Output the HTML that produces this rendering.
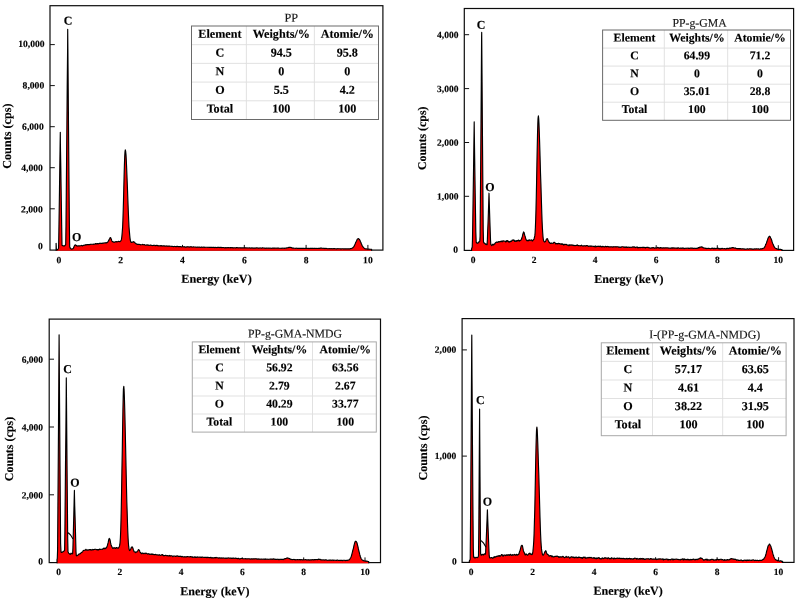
<!DOCTYPE html>
<html lang="en">
<head>
<meta charset="utf-8">
<title>EDS spectra</title>
<style>
html,body{margin:0;padding:0;background:#fff;}
body{width:797px;height:600px;overflow:hidden;}
svg{display:block;font-family:"Liberation Serif", "Times New Roman", serif;fill:#000;text-rendering:geometricPrecision;}
text{stroke:#000;stroke-width:0.14px;}
</style>
</head>
<body>
<svg width="797" height="600" viewBox="0 0 797 600">
<rect width="797" height="600" fill="#fff"/>
<g>
<rect x="50" y="5.7" width="332.9" height="244.4" fill="#fff" stroke="#0c0c0c" stroke-width="1.2"/>
<path d="M50 208.8h4.8M50 167.7h4.8M50 126.7h4.8M50 85.6h4.8M50 44.6h4.8M58.9 250.1v-5.2M120.7 250.1v-5.2M182.5 250.1v-5.2M244.3 250.1v-5.2M306.1 250.1v-5.2M367.9 250.1v-5.2" stroke="#111" stroke-width="1" fill="none"/>
<polyline points="56.1,250.8 56.1,243.3 56.4,250 56.7,250 57,249.9 57.4,249.7 57.7,249.4 58,249.1 58.3,248.6 58.6,247.9 58.9,230 59.2,209.8 59.5,188.9 59.8,167.2 60.1,144.3 60.3,132.3 60.4,144.2 60.8,166.6 61.1,187.7 61.4,207.8 61.7,227.6 62,245.2 62.3,245.4 62.6,245.5 62.9,245.7 63.2,246 63.5,246 63.8,245.9 64.2,245.9 64.5,245.9 64.8,245.7 65.1,245.3 65.4,245 65.7,244.6 66,224.8 66.3,191.9 66.6,158.4 66.9,123.7 67.2,87.5 67.6,49.3 67.7,29.3 67.9,49.6 68.2,88 68.5,124.4 68.8,159.4 69.1,193.4 69.4,226.6 69.7,246.8 70,247.6 70.3,248.3 70.6,248.6 71,248.8 71.3,249 71.6,249.1 71.9,249 72.2,249 72.5,248.9 72.8,248.8 73.1,248.5 73.4,248.2 73.7,247.6 74,246.8 74.3,246 74.7,245.4 75,245 75.1,244.9 75.3,244.9 75.6,245 75.9,245.3 76.2,245.4 76.5,245.6 76.8,246 77.1,246.1 77.4,246 77.7,245.9 78.1,245.9 78.4,245.9 78.7,245.9 79,246 79.3,246 79.6,245.8 79.9,245.9 80.2,245.8 80.5,245.7 80.8,245.7 81.1,245.6 81.5,245.4 81.8,245.5 82.1,245.7 82.4,245.9 82.7,245.7 83,245.5 83.3,245.4 83.6,245.4 83.9,245.2 84.2,245.2 84.5,245.1 84.9,245 85.2,245.1 85.5,244.9 85.8,244.6 86.1,244.7 86.4,244.9 86.7,244.8 87,244.6 87.3,244.5 87.6,244.6 87.9,244.7 88.3,244.7 88.6,244.5 88.9,244.5 89.2,244.6 89.5,244.6 89.8,244.5 90.1,244.4 90.4,244.4 90.7,244.3 91,244.2 91.3,244.2 91.7,244.3 92,244.2 92.3,244.2 92.6,244.2 92.9,244.3 93.2,244.4 93.5,244.2 93.8,244 94.1,244 94.4,244 94.7,244.1 95.1,244.1 95.4,243.8 95.7,243.6 96,243.6 96.3,243.8 96.6,243.8 96.9,243.8 97.2,243.8 97.5,243.6 97.8,243.8 98.1,243.9 98.5,243.8 98.8,243.6 99.1,243.4 99.4,243.4 99.7,243.4 100,243.4 100.3,243.3 100.6,243.3 100.9,243.2 101.2,243.3 101.5,243.3 101.9,243.3 102.2,243.3 102.5,243.3 102.8,243.1 103.1,243.1 103.4,243.2 103.7,243.1 104,243 104.3,242.9 104.6,243 104.9,243 105.2,243 105.6,242.9 105.9,242.6 106.2,242.7 106.5,242.9 106.8,242.6 107.1,242.6 107.4,242.3 107.7,241.9 108,241.7 108.3,241.2 108.6,240.6 109,239.9 109.3,239.3 109.6,238.7 109.9,238 110.2,237.6 110.5,237.6 110.8,237.9 111.1,238.7 111.4,239.5 111.7,240.4 112,241.1 112.4,241.6 112.7,241.8 113,241.8 113.3,241.9 113.6,242.1 113.9,242.3 114.2,242.3 114.5,242.1 114.8,242 115.1,242 115.4,241.9 115.8,241.6 116.1,241.6 116.4,241.8 116.7,242 117,241.9 117.3,241.8 117.6,241.7 117.9,241.6 118.2,241.5 118.5,241.3 118.8,241.4 119.2,241.5 119.5,241.6 119.8,241.7 120.1,241.5 120.4,241.2 120.7,241 121,240.6 121.3,239.9 121.6,238.5 121.9,236.1 122.2,232.6 122.6,227.4 122.9,220.2 123.2,211.1 123.5,200.2 123.8,188.1 124.1,176 124.4,165.2 124.7,156.9 125,151.8 125.3,149.8 125.6,150.8 126,154.6 126.3,160.2 126.6,167 126.9,174.5 127.2,182 127.5,189.7 127.8,197.9 128.1,206 128.4,213.6 128.7,220.6 129,226.8 129.4,231.6 129.7,235.1 130,238 130.3,240.1 130.6,241.3 130.9,241.9 131.2,242.3 131.5,242.3 131.8,242.3 132.1,242.2 132.4,242.1 132.8,242.2 133.1,242 133.4,241.7 133.5,241.8 133.7,241.9 134,242 134.3,242.1 134.6,242.2 134.9,242.6 135.2,243.1 135.5,243.4 135.8,243.7 136.2,243.8 136.5,243.9 136.8,244 137.1,244.3 137.4,244.3 137.7,244.4 138,244.5 138.3,244.4 138.6,244.4 138.9,244.3 139.2,244.3 139.5,244.4 139.9,244.5 140.2,244.6 140.5,244.8 140.8,244.8 141.1,244.7 141.4,244.7 141.7,244.7 142,244.7 142.3,244.7 142.6,244.4 142.9,244.4 143.3,244.7 143.6,244.8 143.9,244.7 144.2,244.6 144.5,244.6 144.8,244.9 145.1,245.1 145.4,245.1 145.7,245.2 146,245.2 146.3,245.1 146.7,245 147,244.8 147.3,244.9 147.6,245.2 147.9,245.3 148.2,245.1 148.5,245 148.8,245.2 149.1,245.4 149.4,245.2 149.7,245.2 150.1,245.1 150.4,245 150.7,245.1 151,245.2 151.3,245.3 151.6,245.3 151.9,245.4 152.2,245.6 152.5,245.5 152.8,245.5 153.1,245.5 153.5,245.4 153.8,245.2 154.1,245.2 154.4,245.3 154.7,245.4 155,245.7 155.3,245.8 155.6,245.6 155.9,245.4 156.2,245.4 156.5,245.4 156.9,245.5 157.2,245.7 157.5,245.5 157.8,245.4 158.1,245.7 158.4,245.9 158.7,245.8 159,245.7 159.3,245.7 159.6,245.7 159.9,245.9 160.3,245.9 160.6,245.7 160.9,245.5 161.2,245.6 161.5,245.8 161.8,246 162.1,246.1 162.4,245.9 162.7,245.9 163,245.9 163.3,245.9 163.7,245.8 164,245.8 164.3,245.8 164.6,246 164.9,246.2 165.2,246.2 165.5,246.1 165.8,246 166.1,245.9 166.4,245.9 166.7,246.1 167,246.1 167.4,246.1 167.7,246.1 168,246.1 168.3,246.1 168.6,246 168.9,246 169.2,246.1 169.5,246 169.8,246.1 170.1,246.2 170.4,246.3 170.8,246.2 171.1,246.2 171.4,246.2 171.7,246.4 172,246.5 172.3,246.5 172.6,246.4 172.9,246.5 173.2,246.5 173.5,246.6 173.8,246.6 174.2,246.5 174.5,246.4 174.8,246.5 175.1,246.5 175.4,246.5 175.7,246.6 176,246.8 176.3,246.7 176.6,246.5 176.9,246.3 177.2,246.3 177.6,246.4 177.9,246.6 178.2,246.7 178.5,246.6 178.8,246.5 179.1,246.5 179.4,246.7 179.7,246.7 180,246.5 180.3,246.5 180.6,246.6 181,246.8 181.3,246.9 181.6,246.9 181.9,246.8 182.2,246.7 182.5,246.6 182.8,246.6 183.1,246.7 183.4,246.8 183.7,246.8 184,246.9 184.4,246.8 184.7,246.7 185,246.9 185.3,247.1 185.6,247 185.9,247 186.2,247.1 186.5,247 186.8,246.8 187.1,246.7 187.4,246.8 187.8,246.8 188.1,246.8 188.4,247 188.7,247 189,246.9 189.3,247 189.6,247.1 189.9,247 190.2,246.8 190.5,246.7 190.8,246.8 191.2,246.8 191.5,246.8 191.8,246.9 192.1,247.1 192.4,247 192.7,247 193,247 193.3,246.9 193.6,246.9 193.9,247 194.2,247 194.6,247 194.9,247 195.2,247 195.5,247 195.8,247.1 196.1,247.2 196.4,247.2 196.7,247.3 197,247.1 197.3,247 197.6,247.1 197.9,247.2 198.3,247.2 198.6,247.1 198.9,247 199.2,247 199.5,247.1 199.8,247.2 200.1,247.2 200.4,247.3 200.7,247.3 201,247.3 201.3,247.1 201.7,247.1 202,247.1 202.3,247.2 202.6,247.3 202.9,247.3 203.2,247.2 203.5,247.1 203.8,247.1 204.1,247.1 204.4,247.3 204.7,247.4 205.1,247.2 205.4,247.2 205.7,247.3 206,247.2 206.3,247.2 206.6,247.2 206.9,247.2 207.2,247.3 207.5,247.3 207.8,247.2 208.1,247.2 208.5,247.3 208.8,247.3 209.1,247.4 209.4,247.3 209.7,247.3 210,247.3 210.3,247.3 210.6,247.3 210.9,247.3 211.2,247.3 211.5,247.3 211.9,247.4 212.2,247.4 212.5,247.5 212.8,247.5 213.1,247.4 213.4,247.3 213.7,247.3 214,247.3 214.3,247.4 214.6,247.6 214.9,247.6 215.3,247.5 215.6,247.4 215.9,247.4 216.2,247.5 216.5,247.5 216.8,247.6 217.1,247.6 217.4,247.4 217.7,247.3 218,247.4 218.3,247.5 218.7,247.4 219,247.4 219.3,247.4 219.6,247.5 219.9,247.6 220.2,247.5 220.5,247.4 220.8,247.3 221.1,247.3 221.4,247.5 221.7,247.6 222.1,247.6 222.4,247.5 222.7,247.5 223,247.5 223.3,247.5 223.6,247.5 223.9,247.6 224.2,247.7 224.5,247.8 224.8,247.8 225.1,247.8 225.5,247.8 225.8,247.6 226.1,247.6 226.4,247.7 226.7,247.8 227,247.8 227.3,247.7 227.6,247.6 227.9,247.7 228.2,247.7 228.5,247.6 228.8,247.6 229.2,247.7 229.5,247.7 229.8,247.7 230.1,247.6 230.4,247.6 230.7,247.8 231,247.8 231.3,247.7 231.6,247.6 231.9,247.5 232.2,247.6 232.6,247.8 232.9,247.8 233.2,247.8 233.5,247.8 233.8,247.8 234.1,247.8 234.4,247.7 234.7,247.7 235,247.8 235.3,247.8 235.6,247.9 236,247.9 236.3,247.8 236.6,247.6 236.9,247.5 237.2,247.6 237.5,247.7 237.8,247.8 238.1,247.9 238.4,247.9 238.7,247.8 239,247.7 239.4,247.7 239.7,247.8 240,247.8 240.3,247.8 240.6,247.8 240.9,247.8 241.2,247.9 241.5,248 241.8,247.9 242.1,247.8 242.4,247.8 242.8,247.9 243.1,248 243.4,247.9 243.7,247.9 244,247.9 244.3,247.9 244.6,247.9 244.9,247.8 245.2,247.8 245.5,247.8 245.8,247.8 246.2,247.8 246.5,247.9 246.8,248 247.1,248 247.4,248 247.7,247.9 248,247.9 248.3,248 248.6,248 248.9,248 249.2,247.9 249.6,247.9 249.9,248 250.2,248 250.5,248.1 250.8,248 251.1,247.9 251.4,247.9 251.7,248 252,248.1 252.3,248.1 252.6,247.9 253,247.9 253.3,248.1 253.6,248.1 253.9,248.1 254.2,248.1 254.5,248.2 254.8,248 255.1,248 255.4,248.1 255.7,248 256,247.9 256.4,247.9 256.7,247.9 257,247.9 257.3,247.9 257.6,248 257.9,248 258.2,248.1 258.5,248.1 258.8,248.1 259.1,248.1 259.4,248 259.8,248 260.1,247.9 260.4,248 260.7,248 261,248 261.3,248.1 261.6,248.1 261.9,248 262.2,248 262.5,247.8 262.8,247.8 263.1,247.9 263.5,248 263.8,248 264.1,248 264.4,248.1 264.7,248.1 265,248.2 265.3,248.3 265.6,248.3 265.9,248.1 266.2,248.1 266.5,248.1 266.9,248 267.2,248.1 267.5,248.2 267.8,248.2 268.1,248.1 268.4,248 268.7,248.2 269,248.3 269.3,248.2 269.6,248.1 269.9,248.1 270.3,248.2 270.6,248.2 270.9,248.1 271.2,248.2 271.5,248.3 271.8,248.3 272.1,248.2 272.4,248.1 272.7,248.1 273,248.1 273.3,248.1 273.7,248.1 274,248.1 274.3,248.1 274.6,248.1 274.9,248.1 275.2,248.2 275.5,248.2 275.8,248.1 276.1,248.1 276.4,248.1 276.7,248.2 277.1,248.2 277.4,248.1 277.7,248.1 278,248.2 278.3,248.1 278.6,248.1 278.9,248.2 279.2,248.3 279.5,248.2 279.8,248.2 280.1,248.2 280.5,248.2 280.8,248.3 281.1,248.3 281.4,248.3 281.7,248.2 282,248.1 282.3,248.1 282.6,248.2 282.9,248.2 283.2,248.2 283.5,248.2 283.9,248.1 284.2,248.2 284.5,248.4 284.8,248.3 285.1,248.1 285.4,248.2 285.7,248.2 286,248.1 286.3,248.1 286.6,247.9 286.9,247.8 287.3,247.8 287.6,247.7 287.9,247.7 288.2,247.7 288.5,247.5 288.8,247.4 289.1,247.4 289.4,247.4 289.7,247.4 290,247.5 290.3,247.5 290.6,247.4 291,247.4 291.3,247.6 291.6,247.8 291.9,247.8 292.2,247.9 292.5,248.1 292.8,248.1 293.1,248.1 293.4,248.1 293.7,248.1 294,248.2 294.4,248.2 294.7,248.2 295,248.3 295.3,248.3 295.6,248.3 295.9,248.2 296.2,248.1 296.5,248.2 296.8,248.3 297.1,248.3 297.4,248.3 297.8,248.3 298.1,248.3 298.4,248.3 298.7,248.3 299,248.3 299.3,248.3 299.6,248.3 299.9,248.4 300.2,248.3 300.5,248.3 300.8,248.4 301.2,248.4 301.5,248.4 301.8,248.3 302.1,248.4 302.4,248.4 302.7,248.4 303,248.4 303.3,248.3 303.6,248.3 303.9,248.3 304.2,248.4 304.6,248.5 304.9,248.5 305.2,248.3 305.5,248.4 305.8,248.4 306.1,248.3 306.4,248.4 306.7,248.4 307,248.4 307.3,248.4 307.6,248.5 308,248.4 308.3,248.3 308.6,248.4 308.9,248.6 309.2,248.6 309.5,248.4 309.8,248.4 310.1,248.4 310.4,248.4 310.7,248.5 311,248.4 311.4,248.4 311.7,248.4 312,248.4 312.3,248.4 312.6,248.4 312.9,248.5 313.2,248.4 313.5,248.5 313.8,248.5 314.1,248.4 314.4,248.3 314.8,248.3 315.1,248.4 315.4,248.4 315.7,248.5 316,248.5 316.3,248.5 316.6,248.4 316.9,248.4 317.2,248.4 317.5,248.5 317.8,248.5 318.2,248.4 318.5,248.3 318.8,248.3 319.1,248.3 319.4,248.3 319.7,248.3 320,248.3 320.3,248.1 320.6,248.1 320.9,248.1 321.2,248.1 321.5,248 321.9,248.2 322.2,248.3 322.5,248.3 322.8,248.2 323.1,248.2 323.4,248.3 323.7,248.3 324,248.2 324.3,248.4 324.6,248.5 324.9,248.6 325.3,248.5 325.6,248.4 325.9,248.4 326.2,248.4 326.5,248.5 326.8,248.5 327.1,248.6 327.4,248.7 327.7,248.7 328,248.7 328.3,248.7 328.7,248.6 329,248.5 329.3,248.6 329.6,248.7 329.9,248.7 330.2,248.6 330.5,248.7 330.8,248.7 331.1,248.7 331.4,248.7 331.7,248.6 332.1,248.7 332.4,248.8 332.7,248.7 333,248.6 333.3,248.7 333.6,248.7 333.9,248.6 334.2,248.6 334.5,248.6 334.8,248.7 335.1,248.8 335.5,248.7 335.8,248.7 336.1,248.7 336.4,248.9 336.7,248.9 337,248.8 337.3,248.7 337.6,248.7 337.9,248.6 338.2,248.7 338.5,248.7 338.9,248.7 339.2,248.7 339.5,248.7 339.8,248.7 340.1,248.8 340.4,248.8 340.7,248.8 341,248.9 341.3,248.9 341.6,248.9 341.9,248.8 342.3,248.7 342.6,248.7 342.9,248.8 343.2,248.9 343.5,248.9 343.8,248.8 344.1,248.8 344.4,248.9 344.7,249 345,248.9 345.3,248.8 345.7,248.8 346,248.9 346.3,248.9 346.6,248.9 346.9,248.8 347.2,248.8 347.5,248.9 347.8,248.9 348.1,248.9 348.4,248.8 348.7,248.8 349.1,248.9 349.4,248.8 349.7,248.8 350,248.8 350.3,248.7 350.6,248.6 350.9,248.7 351.2,248.5 351.5,248.5 351.8,248.4 352.1,248.3 352.4,248.1 352.8,247.8 353.1,247.5 353.4,247.2 353.7,246.9 354,246.4 354.3,245.7 354.6,245.1 354.9,244.4 355.2,243.8 355.5,243 355.8,242.2 356.2,241.5 356.5,240.9 356.8,240.2 357.1,239.6 357.4,239.2 357.7,238.9 358,238.7 358.3,238.6 358.6,238.7 358.9,239 359.2,239.2 359.6,239.7 359.9,240.3 360.2,241 360.5,241.7 360.8,242.3 361.1,243 361.4,243.8 361.7,244.5 362,245.2 362.3,245.8 362.6,246.4 363,246.8 363.3,247.2 363.6,247.6 363.9,247.9 364.2,248.2 364.5,248.5 364.8,248.7 365.1,248.8 365.4,248.9 365.7,248.8 366,248.8 366.4,248.9 366.7,249 367,249 367.3,249.1 367.6,249.1 367.9,249.1 368.2,249.1 368.5,249 368.8,249.1 369.1,249.1 369.4,249.2 369.8,249.2 370.1,249.2 370.4,249.2 370.7,249.2 371,249.2 371.3,249.2 371.6,249.2 371.6,250.8" fill="#fe0000" stroke="#000" stroke-width="1.15" stroke-linejoin="round"/>
<g font-size="9.6" font-weight="bold" text-anchor="end">
<text x="42.7" y="249.3" transform="rotate(0.03 42.7 249.3)">0</text>
<text x="42.7" y="212.4" transform="rotate(0.03 42.7 212.4)">2,000</text>
<text x="42.8" y="171" transform="rotate(0.03 42.8 171)">4,000</text>
<text x="43.7" y="129.8" transform="rotate(0.03 43.7 129.8)">6,000</text>
<text x="44.2" y="88.6" transform="rotate(0.03 44.2 88.6)">8,000</text>
<text x="44.6" y="47" transform="rotate(0.03 44.6 47)">10,000</text>
</g>
<g font-size="9.6" font-weight="bold" text-anchor="middle">
<text x="58.9" y="263.2" transform="rotate(0.03 58.9 263.2)">0</text>
<text x="120.7" y="263.2" transform="rotate(0.03 120.7 263.2)">2</text>
<text x="182.5" y="263.2" transform="rotate(0.03 182.5 263.2)">4</text>
<text x="244.3" y="263.2" transform="rotate(0.03 244.3 263.2)">6</text>
<text x="306.1" y="263.2" transform="rotate(0.03 306.1 263.2)">8</text>
<text x="367.9" y="263.2" transform="rotate(0.03 367.9 263.2)">10</text>
</g>
<text x="216.5" y="282.8" transform="rotate(0.03 216.5 282.8)" font-size="12.25" font-weight="bold" text-anchor="middle">Energy (keV)</text>
<text transform="translate(11.1 136.1) rotate(-90)" font-size="12.2" font-weight="bold" text-anchor="middle">Counts (cps)</text>
<text x="68" y="24.6" transform="rotate(0.03 68 24.6)" font-size="12" font-weight="bold" text-anchor="middle">C</text>
<text x="76.6" y="240.9" transform="rotate(0.03 76.6 240.9)" font-size="12" font-weight="bold" text-anchor="middle">O</text>
<rect x="191.5" y="26" width="187" height="93.5" fill="#fff" stroke="none"/>
<path d="M191.5 44.7H378.5M191.5 63.4H378.5M191.5 82.1H378.5M191.5 100.8H378.5M246.4 26V119.5M314.4 26V119.5" stroke="#dedede" stroke-width="0.9" fill="none"/>
<rect x="191.5" y="26" width="187" height="93.5" fill="none" stroke="#6a6a6a" stroke-width="1"/>
<text x="291.2" y="21.8" transform="rotate(0.03 291.2 21.8)" font-size="12.15" text-anchor="middle" stroke="none" fill="#1a1a1a">PP</text>
<g font-size="12.15" font-weight="bold" text-anchor="middle">
<text x="219.9" y="37.8" transform="rotate(0.03 219.9 37.8)">Element</text>
<text x="281.3" y="37.8" transform="rotate(0.03 281.3 37.8)">Weights/%</text>
<text x="347.3" y="37.8" transform="rotate(0.03 347.3 37.8)">Atomie/%</text>
<text x="219.9" y="56.5" transform="rotate(0.03 219.9 56.5)">C</text>
<text x="281.3" y="56.5" transform="rotate(0.03 281.3 56.5)">94.5</text>
<text x="347.3" y="56.5" transform="rotate(0.03 347.3 56.5)">95.8</text>
<text x="219.9" y="75.2" transform="rotate(0.03 219.9 75.2)">N</text>
<text x="281.3" y="75.2" transform="rotate(0.03 281.3 75.2)">0</text>
<text x="347.3" y="75.2" transform="rotate(0.03 347.3 75.2)">0</text>
<text x="219.9" y="93.8" transform="rotate(0.03 219.9 93.8)">O</text>
<text x="281.3" y="93.8" transform="rotate(0.03 281.3 93.8)">5.5</text>
<text x="347.3" y="93.8" transform="rotate(0.03 347.3 93.8)">4.2</text>
<text x="219.9" y="112.5" transform="rotate(0.03 219.9 112.5)">Total</text>
<text x="281.3" y="112.5" transform="rotate(0.03 281.3 112.5)">100</text>
<text x="347.3" y="112.5" transform="rotate(0.03 347.3 112.5)">100</text>
</g>
</g>
<g>
<rect x="464.3" y="8.5" width="329.3" height="241.9" fill="#fff" stroke="#0c0c0c" stroke-width="1.2"/>
<path d="M464.3 196.3h4.8M464.3 142.5h4.8M464.3 88.6h4.8M464.3 34.7h4.8M473.1 250.4v-5.2M534.1 250.4v-5.2M595.2 250.4v-5.2M656.2 250.4v-5.2M717.3 250.4v-5.2M778.3 250.4v-5.2" stroke="#111" stroke-width="1" fill="none"/>
<polyline points="471.6,251.1 471.6,248.8 471.9,248.1 472.2,247.2 472.5,239.1 472.8,219.6 473.1,199.6 473.4,179.5 473.7,158.4 474,135.9 474.2,121.8 474.3,131.2 474.6,153 474.9,173.5 475.2,193.4 475.5,213 475.8,231.7 476.2,242.3 476.5,242.5 476.8,243.1 477.1,243.1 477.4,243.2 477.7,243.3 478,243.1 478.3,242.7 478.6,242.1 478.9,241.9 479.2,241.9 479.5,241.7 479.8,241.1 480.1,236.4 480.4,199.3 480.7,161.5 481,122.4 481.3,81.2 481.6,37.1 481.7,32.4 482,72.5 482.3,114.2 482.6,153.9 482.9,192.2 483.2,230 483.5,242 483.8,242.7 484.1,243.1 484.4,243.3 484.7,243.4 485,243.5 485.3,244 485.6,244.3 485.9,244.2 486.2,244 486.5,244.3 486.8,244.7 487.1,244.6 487.4,239.2 487.7,230.4 488.1,221.5 488.4,212.3 488.7,203 489,193.2 489.3,203.5 489.6,212.9 489.9,222.2 490.2,231.1 490.5,239.5 490.8,244.5 491.1,244.6 491.4,245.2 491.7,245.6 492,245.4 492.3,245.1 492.6,244.5 492.9,244.2 493.2,244.6 493.5,245 493.9,244.6 494.2,244 494.5,243.9 494.8,243.9 495.1,243.3 495.4,242.7 495.7,242.6 496,242.5 496.3,242.2 496.6,242 496.9,242 497.2,242.3 497.5,242.4 497.8,242.3 498.1,242 498.4,241.6 498.7,241.7 499,241.9 499.3,242 499.7,241.8 500,241.5 500.3,241.6 500.6,241.7 500.9,241.3 501.2,241.1 501.5,241.1 501.8,241.5 502.1,241.8 502.4,241.4 502.7,240.9 503,241.1 503.3,241 503.6,240.8 503.9,241.1 504.2,241.2 504.5,241.2 504.8,241.2 505.1,241.1 505.5,241.5 505.8,242.1 506.1,241.8 506.4,240.9 506.7,240.6 507,241.3 507.3,241.1 507.6,240.6 507.9,240.8 508.2,241.4 508.5,241.9 508.8,242 509.1,241.6 509.4,241.7 509.7,242.1 510,241.9 510.3,241.3 510.6,241.2 510.9,241.4 511.2,241.4 511.6,241.2 511.9,240.6 512.2,240 512.5,240 512.8,240.3 513.1,240.4 513.4,240.1 513.7,239.9 514,240 514.3,240.4 514.6,241.2 514.9,241.4 515.2,240.9 515.5,240.8 515.8,241.1 516.1,241.4 516.4,241.2 516.7,240.5 517,240.6 517.4,241 517.7,240.8 518,240.6 518.3,240.2 518.6,240 518.9,240.6 519.2,241.2 519.5,241 519.8,240.8 520.1,240.5 520.4,240.3 520.7,240.3 521,240.1 521.3,239.5 521.6,238.8 521.9,237.8 522.2,236.9 522.5,235.7 522.8,234.3 523.2,233.1 523.5,232.1 523.7,231.9 523.8,232.1 524.1,232.6 524.4,233.9 524.7,235.2 525,235.9 525.3,236.9 525.6,238 525.9,239 526.2,239.7 526.5,240.2 526.8,240.6 527.1,240.5 527.4,240.3 527.7,240.7 528,241 528.3,240.8 528.6,240.2 529,239.8 529.3,239.9 529.6,240.3 529.9,240.5 530.2,240.2 530.5,240.2 530.8,240.2 531.1,239.9 531.4,239.9 531.7,240.2 532,240.7 532.3,240.9 532.6,240.9 532.9,240.4 533.2,239.9 533.5,239.6 533.8,239.5 534.1,238.7 534.4,237.3 534.8,235.9 535.1,233 535.4,227.3 535.7,219.3 536,209.1 536.3,196.4 536.6,181.2 536.9,164.6 537.2,149 537.5,135.3 537.8,124.5 538,119 538.1,117.8 538.4,115.8 538.7,118.5 539,124.4 539.3,132.4 539.6,141.6 539.9,151.4 540.2,161.9 540.5,173 540.9,183.9 541.2,194.1 541.5,203.9 541.8,213.2 542.1,221.5 542.4,228.1 542.7,232.8 543,236.7 543.3,239.3 543.6,240.5 543.9,241.2 544.2,241.7 544.5,242 544.8,241.9 545.1,241.8 545.4,241.6 545.7,240.9 546,240.1 546.3,239.5 546.7,239 547,238.7 547,238.6 547.3,238.7 547.6,239 547.9,239.8 548.2,240.5 548.5,241.1 548.8,241.9 549.1,242.3 549.4,242.5 549.7,242.8 550,243.1 550.3,243.5 550.6,243.5 550.9,243.2 551.2,243 551.5,243.1 551.8,243.3 552.1,243.3 552.5,243.2 552.8,243.3 553.1,243.4 553.4,243 553.7,242.4 554,242.4 554.3,242.4 554.6,242.3 554.9,242.6 555.2,243 555.5,243.6 555.8,244 556.1,243.8 556.4,243.6 556.7,243.7 557,243.5 557.3,243.5 557.6,243.8 557.9,243.8 558.3,243.3 558.6,243.3 558.9,243.6 559.2,243.8 559.5,243.7 559.8,243.6 560.1,243.7 560.4,243.9 560.7,244 561,244.3 561.3,244.4 561.6,244.1 561.9,243.7 562.2,244 562.5,244.4 562.8,244.5 563.1,244.2 563.4,244.4 563.7,245.1 564,245 564.4,244.3 564.7,244.4 565,244.6 565.3,244.5 565.6,244.4 565.9,244.5 566.2,244.5 566.5,244.4 566.8,244.7 567.1,245.2 567.4,245.2 567.7,245.1 568,245.1 568.3,245 568.6,245.3 568.9,245.8 569.2,245.5 569.5,244.8 569.8,244.9 570.2,245.2 570.5,245.2 570.8,244.9 571.1,245.1 571.4,245.1 571.7,244.8 572,245 572.3,245.1 572.6,245.1 572.9,245.3 573.2,245.6 573.5,245.4 573.8,245.2 574.1,245.4 574.4,245.5 574.7,245.6 575,245.6 575.3,245.6 575.6,245.6 576,245.4 576.3,245.2 576.6,245.3 576.9,245.4 577.2,245.1 577.5,244.9 577.8,245.3 578.1,245.6 578.4,245.5 578.7,245.5 579,245.6 579.3,245.7 579.6,245.7 579.9,245.7 580.2,245.8 580.5,245.8 580.8,245.6 581.1,245.4 581.4,245.2 581.8,245.6 582.1,246 582.4,245.9 582.7,245.9 583,246.1 583.3,246 583.6,245.8 583.9,245.8 584.2,245.7 584.5,245.8 584.8,245.9 585.1,245.7 585.4,245.9 585.7,246.2 586,245.9 586.3,245.6 586.6,245.6 586.9,245.6 587.2,245.5 587.6,245.8 587.9,246 588.2,246.2 588.5,246.4 588.8,246.1 589.1,246 589.4,246.2 589.7,246 590,246.1 590.3,246.3 590.6,246.1 590.9,245.9 591.2,246.1 591.5,246 591.8,246 592.1,246.3 592.4,246.2 592.7,246.2 593,246.3 593.3,246.3 593.7,246.4 594,246.6 594.3,246.6 594.6,246.5 594.9,246.5 595.2,246.7 595.5,246.8 595.8,246.9 596.1,246.7 596.4,246.5 596.7,246.4 597,246.2 597.3,246.2 597.6,246.5 597.9,246.5 598.2,246.4 598.5,246.5 598.8,246.4 599.1,246.1 599.5,246.4 599.8,246.7 600.1,246.5 600.4,246.2 600.7,246.1 601,246.4 601.3,246.8 601.6,246.8 601.9,246.7 602.2,246.8 602.5,246.5 602.8,246.3 603.1,246.5 603.4,246.6 603.7,246.7 604,246.8 604.3,246.8 604.6,246.9 604.9,246.7 605.3,246.3 605.6,246.3 605.9,246.5 606.2,246.8 606.5,246.8 606.8,246.6 607.1,246.4 607.4,246.5 607.7,246.6 608,246.5 608.3,246.6 608.6,246.9 608.9,247 609.2,246.9 609.5,246.9 609.8,247 610.1,246.9 610.4,246.8 610.7,246.8 611.1,246.8 611.4,246.8 611.7,246.7 612,246.7 612.3,246.9 612.6,247.1 612.9,247 613.2,246.7 613.5,246.8 613.8,246.8 614.1,246.8 614.4,246.8 614.7,246.7 615,246.7 615.3,246.8 615.6,246.7 615.9,246.9 616.2,247 616.5,246.8 616.8,246.8 617.2,246.7 617.5,246.7 617.8,246.8 618.1,247 618.4,247.2 618.7,247 619,246.9 619.3,247.1 619.6,247.3 619.9,247.4 620.2,247.5 620.5,247.2 620.8,247.1 621.1,247.3 621.4,247.2 621.7,246.9 622,246.8 622.3,246.7 622.6,246.7 623,246.8 623.3,246.9 623.6,247 623.9,247.2 624.2,247.4 624.5,247.1 624.8,246.9 625.1,247.2 625.4,247.4 625.7,247.1 626,246.8 626.3,246.9 626.6,247.3 626.9,247.3 627.2,247.2 627.5,247.4 627.8,247.5 628.1,247.2 628.4,247.1 628.8,247.2 629.1,247.3 629.4,247.4 629.7,247.2 630,247.3 630.3,247.3 630.6,247.2 630.9,247.3 631.2,247.3 631.5,247.2 631.8,247.3 632.1,247.3 632.4,247.1 632.7,246.9 633,246.8 633.3,246.9 633.6,247.2 633.9,247.3 634.2,247 634.6,246.9 634.9,247.2 635.2,247.3 635.5,247.5 635.8,247.6 636.1,247.3 636.4,247.2 636.7,247.2 637,246.9 637.3,247 637.6,247.5 637.9,247.8 638.2,247.8 638.5,247.6 638.8,247.5 639.1,247.4 639.4,247.5 639.7,247.6 640,247.7 640.3,247.7 640.7,247.4 641,247.4 641.3,247.5 641.6,247.5 641.9,247.5 642.2,247.4 642.5,247.6 642.8,247.5 643.1,247.2 643.4,247.3 643.7,247.5 644,247.6 644.3,247.6 644.6,247.4 644.9,247.3 645.2,247.7 645.5,247.9 645.8,247.7 646.1,247.4 646.5,247.5 646.8,247.5 647.1,247.4 647.4,247.4 647.7,247.4 648,247.3 648.3,247.5 648.6,247.7 648.9,247.8 649.2,247.9 649.5,248 649.8,247.9 650.1,248 650.4,248.1 650.7,248.2 651,248.1 651.3,247.9 651.6,247.8 651.9,247.9 652.3,248 652.6,247.8 652.9,247.6 653.2,247.7 653.5,247.7 653.8,247.6 654.1,248.1 654.4,248.3 654.7,248.2 655,248 655.3,248 655.6,247.9 655.9,247.9 656.2,248.1 656.5,248 656.8,248 657.1,247.8 657.4,247.6 657.7,247.4 658.1,247.5 658.4,247.8 658.7,247.8 659,247.9 659.3,248.1 659.6,248.1 659.9,247.7 660.2,247.6 660.5,247.8 660.8,248 661.1,247.9 661.4,247.7 661.7,247.7 662,248 662.3,248.1 662.6,248 662.9,247.9 663.2,247.7 663.5,247.7 663.9,248 664.2,248.1 664.5,247.9 664.8,247.8 665.1,247.9 665.4,247.9 665.7,247.8 666,247.8 666.3,247.8 666.6,247.9 666.9,248 667.2,248 667.5,247.9 667.8,247.8 668.1,247.9 668.4,248.1 668.7,248.2 669,248.1 669.3,248.2 669.6,248.2 670,248.1 670.3,248.1 670.6,248.3 670.9,248.4 671.2,248.2 671.5,247.9 671.8,247.7 672.1,247.7 672.4,247.8 672.7,248 673,248.3 673.3,248.1 673.6,247.8 673.9,247.8 674.2,248 674.5,248.1 674.8,248.1 675.1,248.1 675.4,248 675.8,248 676.1,248.1 676.4,248.1 676.7,248 677,248.3 677.3,248.5 677.6,248 677.9,247.8 678.2,247.9 678.5,247.9 678.8,248 679.1,248.2 679.4,248.3 679.7,248.4 680,248.4 680.3,248.3 680.6,248.1 680.9,248 681.2,248.1 681.6,248.3 681.9,248.5 682.2,248.4 682.5,248.1 682.8,247.9 683.1,247.9 683.4,248.1 683.7,248.4 684,248.6 684.3,248.6 684.6,248.4 684.9,248.2 685.2,248.3 685.5,248.3 685.8,248.2 686.1,248.1 686.4,248.2 686.7,248.3 687,248.3 687.4,248.2 687.7,248.1 688,248.1 688.3,248.3 688.6,248.5 688.9,248.4 689.2,248.2 689.5,248.3 689.8,248.3 690.1,248.2 690.4,248.1 690.7,248.1 691,248.2 691.3,248.1 691.6,248.1 691.9,248.1 692.2,248.1 692.5,248.1 692.8,248.2 693.1,248.4 693.5,248.5 693.8,248.4 694.1,248.3 694.4,248.3 694.7,248.2 695,248.3 695.3,248.5 695.6,248.5 695.9,248.4 696.2,248.4 696.5,248.4 696.8,248.4 697.1,248.5 697.4,248.3 697.7,248.1 698,248 698.3,247.8 698.6,247.6 698.9,247.8 699.3,247.8 699.6,247.3 699.9,247 700.2,247.2 700.5,247 700.8,247 701.1,247.1 701.4,247 701.7,246.8 702,247 702.3,247.1 702.6,247.2 702.9,247.6 703.2,247.9 703.5,247.8 703.8,248 704.1,248 704.4,248 704.7,248.1 705.1,248.3 705.4,248.4 705.7,248.2 706,248.1 706.3,248.4 706.6,248.6 706.9,248.6 707.2,248.5 707.5,248.5 707.8,248.4 708.1,248.4 708.4,248.4 708.7,248.3 709,248.4 709.3,248.5 709.6,248.5 709.9,248.5 710.2,248.7 710.5,248.8 710.9,248.7 711.2,248.5 711.5,248.4 711.8,248.2 712.1,248.1 712.4,248.4 712.7,248.5 713,248.3 713.3,248.3 713.6,248.5 713.9,248.9 714.2,248.8 714.5,248.3 714.8,248.2 715.1,248.5 715.4,248.6 715.7,248.6 716,248.5 716.3,248.4 716.6,248.5 717,248.6 717.3,248.5 717.6,248.2 717.9,248.1 718.2,248.3 718.5,248.5 718.8,248.8 719.1,249 719.4,249 719.7,248.6 720,248.3 720.3,248.7 720.6,249 720.9,248.8 721.2,248.7 721.5,248.6 721.8,248.3 722.1,248.3 722.4,248.4 722.8,248.6 723.1,248.7 723.4,248.7 723.7,248.7 724,248.6 724.3,248.5 724.6,248.5 724.9,248.7 725.2,248.8 725.5,248.8 725.8,248.9 726.1,249 726.4,248.7 726.7,248.4 727,248.5 727.3,248.6 727.6,248.4 727.9,248.2 728.2,248.4 728.6,248.7 728.9,248.6 729.2,248.3 729.5,248.1 729.8,248.1 730.1,248.3 730.4,248.3 730.7,248.2 731,247.9 731.3,247.8 731.6,247.9 731.9,247.9 732.2,247.8 732.5,247.6 732.8,247.5 733.1,247.6 733.4,247.8 733.7,247.9 734,247.9 734.4,248.1 734.7,248.2 735,248 735.3,247.9 735.6,248.1 735.9,248.2 736.2,248.4 736.5,248.6 736.8,248.6 737.1,248.6 737.4,248.5 737.7,248.6 738,248.9 738.3,248.8 738.6,248.5 738.9,248.6 739.2,248.8 739.5,248.8 739.8,248.6 740.2,248.5 740.5,248.6 740.8,248.9 741.1,248.9 741.4,248.9 741.7,248.9 742,248.8 742.3,248.7 742.6,248.8 742.9,249 743.2,249 743.5,248.9 743.8,248.8 744.1,248.8 744.4,249 744.7,249.2 745,249.3 745.3,249.2 745.6,249.1 745.9,249.1 746.3,249.1 746.6,249 746.9,249 747.2,248.9 747.5,248.8 747.8,248.9 748.1,249 748.4,249.1 748.7,249.1 749,248.9 749.3,248.7 749.6,248.7 749.9,248.8 750.2,248.9 750.5,248.8 750.8,248.9 751.1,249 751.4,248.9 751.7,249 752.1,249.2 752.4,249.1 752.7,249.1 753,249 753.3,249.1 753.6,249.1 753.9,249.1 754.2,249 754.5,248.9 754.8,248.9 755.1,248.9 755.4,248.9 755.7,249.1 756,249 756.3,248.8 756.6,248.8 756.9,248.9 757.2,249 757.5,249 757.9,248.9 758.2,248.9 758.5,248.9 758.8,248.9 759.1,249.1 759.4,249.2 759.7,249.2 760,249 760.3,248.9 760.6,248.8 760.9,248.8 761.2,248.8 761.5,248.8 761.8,248.8 762.1,248.8 762.4,248.6 762.7,248.5 763,248.4 763.3,248.3 763.7,248.2 764,248 764.3,247.5 764.6,247.1 764.9,246.7 765.2,245.9 765.5,244.9 765.8,244.4 766.1,243.8 766.4,243 766.7,242.1 767,241.2 767.3,240.4 767.6,239.6 767.9,238.6 768.2,237.9 768.5,237.3 768.8,236.9 769.1,236.6 769.4,236.4 769.5,236.2 769.8,236.3 770.1,236.7 770.4,237.3 770.7,238 771,238.6 771.3,239.2 771.6,240 771.9,241 772.2,242 772.5,242.9 772.8,243.7 773.1,244.3 773.4,245 773.7,245.7 774,246.4 774.3,246.9 774.6,247.3 774.9,247.7 775.2,248 775.6,248.3 775.9,248.5 776.2,248.6 776.5,248.6 776.8,248.8 777.1,249.2 777.4,249.1 777.7,249 778,249.2 778.3,249.5 778.6,249.6 778.9,249.4 779.2,249.4 779.5,249.4 779.8,249.2 780.1,249.2 780.4,249.2 780.7,249.4 781,249.5 781.4,249.6 781.7,249.7 782,249.5 782,251.1" fill="#fe0000" stroke="#000" stroke-width="1.15" stroke-linejoin="round"/>
<g font-size="9.5" font-weight="bold" text-anchor="end">
<text x="458.1" y="252.7" transform="rotate(0.03 458.1 252.7)">0</text>
<text x="458.4" y="199.6" transform="rotate(0.03 458.4 199.6)">1,000</text>
<text x="458.4" y="145.8" transform="rotate(0.03 458.4 145.8)">2,000</text>
<text x="458.4" y="91.9" transform="rotate(0.03 458.4 91.9)">3,000</text>
<text x="458.4" y="38" transform="rotate(0.03 458.4 38)">4,000</text>
</g>
<g font-size="9.5" font-weight="bold" text-anchor="middle">
<text x="473.1" y="262.9" transform="rotate(0.03 473.1 262.9)">0</text>
<text x="534.1" y="262.9" transform="rotate(0.03 534.1 262.9)">2</text>
<text x="595.2" y="262.9" transform="rotate(0.03 595.2 262.9)">4</text>
<text x="656.2" y="262.9" transform="rotate(0.03 656.2 262.9)">6</text>
<text x="717.3" y="262.9" transform="rotate(0.03 717.3 262.9)">8</text>
<text x="778.3" y="262.9" transform="rotate(0.03 778.3 262.9)">10</text>
</g>
<text x="628.8" y="283" transform="rotate(0.03 628.8 283)" font-size="12.05" font-weight="bold" text-anchor="middle">Energy (keV)</text>
<text transform="translate(425.9 138.3) rotate(-90)" font-size="11.85" font-weight="bold" text-anchor="middle">Counts (cps)</text>
<text x="481.2" y="28.7" transform="rotate(0.03 481.2 28.7)" font-size="12" font-weight="bold" text-anchor="middle">C</text>
<text x="490" y="190.9" transform="rotate(0.03 490 190.9)" font-size="12" font-weight="bold" text-anchor="middle">O</text>
<rect x="602.6" y="30" width="187.9" height="90.3" fill="#fff" stroke="none"/>
<path d="M602.6 48.1H790.5M602.6 66.1H790.5M602.6 84.2H790.5M602.6 102.2H790.5M664.3 30V120.3M727.7 30V120.3" stroke="#dedede" stroke-width="0.9" fill="none"/>
<rect x="602.6" y="30" width="187.9" height="90.3" fill="none" stroke="#6a6a6a" stroke-width="1"/>
<text x="699.6" y="26.8" transform="rotate(0.03 699.6 26.8)" font-size="11.75" text-anchor="middle" stroke="none" fill="#1a1a1a">PP-g-GMA</text>
<g font-size="11.75" font-weight="bold" text-anchor="middle">
<text x="634.5" y="41.4" transform="rotate(0.03 634.5 41.4)">Element</text>
<text x="696.9" y="41.4" transform="rotate(0.03 696.9 41.4)">Weights/%</text>
<text x="760" y="41.4" transform="rotate(0.03 760 41.4)">Atomie/%</text>
<text x="634.5" y="59.3" transform="rotate(0.03 634.5 59.3)">C</text>
<text x="696.9" y="59.3" transform="rotate(0.03 696.9 59.3)">64.99</text>
<text x="760" y="59.3" transform="rotate(0.03 760 59.3)">71.2</text>
<text x="634.5" y="77.2" transform="rotate(0.03 634.5 77.2)">N</text>
<text x="696.9" y="77.2" transform="rotate(0.03 696.9 77.2)">0</text>
<text x="760" y="77.2" transform="rotate(0.03 760 77.2)">0</text>
<text x="634.5" y="95.1" transform="rotate(0.03 634.5 95.1)">O</text>
<text x="696.9" y="95.1" transform="rotate(0.03 696.9 95.1)">35.01</text>
<text x="760" y="95.1" transform="rotate(0.03 760 95.1)">28.8</text>
<text x="634.5" y="112.9" transform="rotate(0.03 634.5 112.9)">Total</text>
<text x="696.9" y="112.9" transform="rotate(0.03 696.9 112.9)">100</text>
<text x="760" y="112.9" transform="rotate(0.03 760 112.9)">100</text>
</g>
</g>
<g>
<rect x="49.2" y="319.1" width="331.3" height="243.5" fill="#fff" stroke="#0c0c0c" stroke-width="1.2"/>
<path d="M49.2 494.8h4.8M49.2 427h4.8M49.2 359.2h4.8M58.5 562.6v-5.2M119.8 562.6v-5.2M181.1 562.6v-5.2M242.4 562.6v-5.2M303.7 562.6v-5.2M365 562.6v-5.2" stroke="#111" stroke-width="1" fill="none"/>
<polyline points="57,563.3 57,559.6 57.3,558.5 57.6,549.4 57.9,509.5 58.2,468.7 58.5,426.5 58.8,382.3 59.1,334.8 59.4,380.9 59.7,423.9 60,465.2 60.3,504.9 60.6,543.6 61,551.9 61.3,552.4 61.6,552.5 61.9,552.2 62.2,552 62.5,552.1 62.8,552 63.1,551.5 63.4,551.4 63.7,551.2 64,550.8 64.3,550.8 64.6,550.6 64.9,531.3 65.2,498.9 65.5,465.3 65.9,430.6 66.2,393.6 66.3,377.9 66.5,401.5 66.8,438.4 67.1,473.3 67.4,506.6 67.7,538.8 68,551.8 68.3,552.3 68.6,553.1 68.9,553.4 69.2,553.6 69.5,553.7 69.8,554 70.1,554.4 70.5,554.2 70.8,553.6 71.1,553.2 71.4,553.6 71.7,553.7 72,553.5 72.3,553.7 72.6,553.8 72.9,548.4 73.2,537.6 73.5,526.5 73.8,514.9 74.1,502.5 74.4,490.4 74.4,491.8 74.7,505.3 75.1,517.9 75.4,529.4 75.7,540.4 76,551.8 76.3,555.5 76.6,555.8 76.9,555.7 77.2,555.7 77.5,555.4 77.8,555.1 78.1,555 78.4,554.8 78.7,554.3 79,554.1 79.3,554.1 79.6,553.9 80,553.6 80.3,553.7 80.6,553.6 80.9,553 81.2,552.5 81.5,552.4 81.8,552.4 82.1,552.2 82.4,551.9 82.7,551.5 83,550.9 83.3,550.5 83.6,550.5 83.9,550.4 84.2,550.3 84.6,550.2 84.9,550.3 85.2,550.2 85.5,549.8 85.8,549.3 86.1,549.5 86.4,549.9 86.7,550.1 87,550.1 87.3,549.9 87.6,550 87.9,550.2 88.2,550.1 88.5,549.9 88.8,549.7 89.2,549.6 89.5,549.6 89.8,549.9 90.1,550 90.4,549.8 90.7,549.6 91,549.8 91.3,550.1 91.6,549.9 91.9,549.8 92.2,550 92.5,549.7 92.8,549.4 93.1,549.7 93.4,549.8 93.7,549.6 94.1,549.5 94.4,549.5 94.7,549.3 95,549.3 95.3,549.2 95.6,549.2 95.9,549.3 96.2,549.6 96.5,549.6 96.8,549.5 97.1,549.5 97.4,549.8 97.7,549.8 98,549.6 98.3,549.8 98.7,549.8 99,549.4 99.3,549.2 99.6,549.1 99.9,549.3 100.2,549.5 100.5,549.5 100.8,549.3 101.1,549.2 101.4,549.2 101.7,549.3 102,549.3 102.3,549.2 102.6,549.3 102.9,549 103.2,548.5 103.6,548.2 103.9,548.3 104.2,548.8 104.5,548.5 104.8,548.1 105.1,548.3 105.4,548.6 105.7,548.2 106,547.9 106.3,548 106.6,547.5 106.9,546.7 107.2,546 107.5,544.9 107.8,543.8 108.2,542.4 108.5,540.8 108.8,539.5 109.1,538.6 109.3,538.4 109.4,538.7 109.7,539 110,539.7 110.3,541.2 110.6,542.9 110.9,544.2 111.2,545.3 111.5,546.2 111.8,546.7 112.1,547.1 112.4,547.8 112.8,548.5 113.1,548.5 113.4,548 113.7,547.8 114,547.7 114.3,547.9 114.6,548 114.9,547.9 115.2,548.3 115.5,548.3 115.8,547.9 116.1,548 116.4,547.8 116.7,547.5 117,547.9 117.3,548.1 117.7,547.9 118,548.2 118.3,548.3 118.6,547.8 118.9,547.2 119.2,546.7 119.5,546 119.8,544.7 120.1,542.1 120.4,537.8 120.7,530.7 121,520.5 121.3,507.1 121.6,490.4 121.9,470.9 122.3,449.9 122.6,429.1 122.9,410.8 123.2,396.8 123.4,389.6 123.5,388.3 123.8,386.3 124.1,389.9 124.4,397.5 124.7,407.7 125,419.8 125.3,433.1 125.6,446.6 125.9,460.4 126.2,474.5 126.5,488.3 126.8,501.2 127.2,513.2 127.5,523.4 127.8,531.7 128.1,538.2 128.4,543.3 128.7,546.7 129,548.6 129.3,550 129.6,550.6 129.9,550.3 130.2,549.9 130.5,549.5 130.8,548.8 131.1,547.9 131.4,547.2 131.8,547 132,547 132.1,546.9 132.4,547.1 132.7,547.7 133,548.5 133.3,549.4 133.6,550.2 133.9,551.2 134.2,551.8 134.5,551.9 134.8,551.8 135.1,551.8 135.4,552.2 135.7,552.6 136,552.3 136.4,551.9 136.7,552 137,551.9 137.3,551.5 137.6,551 137.9,550.5 138.2,549.9 138.5,549.6 138.7,549.7 138.8,549.9 139.1,550 139.4,550.3 139.7,551.1 140,552 140.3,552.5 140.6,552.6 140.9,553 141.3,553.6 141.6,553.7 141.9,553.3 142.2,553.1 142.5,553.1 142.8,553.3 143.1,553.6 143.4,553.6 143.7,553.3 144,553.2 144.3,553.3 144.6,553.3 144.9,553.6 145.2,553.6 145.5,553.2 145.9,553.1 146.2,553.3 146.5,553.4 146.8,553.6 147.1,553.8 147.4,553.9 147.7,554.1 148,553.9 148.3,553.7 148.6,553.9 148.9,553.8 149.2,553.8 149.5,554.3 149.8,554.5 150.1,554.5 150.4,554.3 150.8,554 151.1,554.1 151.4,554.4 151.7,554.2 152,553.8 152.3,554.2 152.6,554.5 152.9,554.3 153.2,554.2 153.5,554.4 153.8,554.7 154.1,554.7 154.4,554.5 154.7,554.6 155,554.7 155.4,554.4 155.7,554.4 156,554.6 156.3,554.7 156.6,554.7 156.9,554.9 157.2,555 157.5,554.9 157.8,555 158.1,555 158.4,555.1 158.7,555 159,554.8 159.3,554.7 159.6,555.1 160,555.4 160.3,555.3 160.6,555.3 160.9,555.2 161.2,555 161.5,554.8 161.8,554.8 162.1,554.9 162.4,554.6 162.7,554.6 163,555.3 163.3,555.7 163.6,555.5 163.9,555.5 164.2,555.7 164.5,555.6 164.9,555.5 165.2,555.5 165.5,555.3 165.8,555.3 166.1,555.5 166.4,555.6 166.7,555.7 167,555.7 167.3,555.6 167.6,555.6 167.9,555.9 168.2,556 168.5,555.9 168.8,555.9 169.1,555.7 169.5,555.4 169.8,555.7 170.1,556.1 170.4,556 170.7,555.7 171,555.7 171.3,555.7 171.6,555.7 171.9,555.8 172.2,556 172.5,556.4 172.8,556.7 173.1,556.5 173.4,556.1 173.7,556 174.1,556 174.4,556 174.7,556 175,556 175.3,556.2 175.6,556.4 175.9,556.4 176.2,556.1 176.5,556.1 176.8,556 177.1,555.8 177.4,555.9 177.7,556.1 178,556.3 178.3,556.5 178.6,556.4 179,556.4 179.3,556.5 179.6,556.4 179.9,556.4 180.2,556.4 180.5,556.4 180.8,556.2 181.1,556.3 181.4,556.7 181.7,556.8 182,556.6 182.3,556.4 182.6,556.6 182.9,556.7 183.2,556.8 183.6,557 183.9,557 184.2,556.9 184.5,556.7 184.8,556.8 185.1,556.9 185.4,556.9 185.7,556.9 186,556.8 186.3,556.8 186.6,556.9 186.9,556.8 187.2,556.6 187.5,556.6 187.8,556.6 188.1,556.7 188.5,556.8 188.8,556.7 189.1,556.7 189.4,556.7 189.7,556.9 190,556.9 190.3,556.6 190.6,556.5 190.9,556.8 191.2,556.9 191.5,556.8 191.8,556.8 192.1,556.7 192.4,556.9 192.7,557.3 193.1,557.3 193.4,557.2 193.7,557.1 194,557.1 194.3,557.1 194.6,556.8 194.9,556.9 195.2,557.3 195.5,557.3 195.8,557 196.1,557 196.4,557.2 196.7,557.4 197,557.3 197.3,557 197.7,556.9 198,557.1 198.3,557.2 198.6,557.2 198.9,557.1 199.2,557.1 199.5,557.1 199.8,557.2 200.1,557.3 200.4,557.3 200.7,557.1 201,557.1 201.3,557.3 201.6,557.3 201.9,557.3 202.2,557.1 202.6,557.1 202.9,557.2 203.2,557.2 203.5,557.3 203.8,557.5 204.1,557.5 204.4,557.4 204.7,557.4 205,557.4 205.3,557.4 205.6,557.2 205.9,557.2 206.2,557.5 206.5,557.6 206.8,557.3 207.2,557.2 207.5,557.5 207.8,557.6 208.1,557.4 208.4,557.4 208.7,557.6 209,557.6 209.3,557.6 209.6,557.6 209.9,557.6 210.2,557.7 210.5,557.5 210.8,557.3 211.1,557.5 211.4,557.8 211.8,558 212.1,558.1 212.4,557.9 212.7,557.6 213,557.6 213.3,557.9 213.6,558 213.9,558 214.2,557.9 214.5,557.8 214.8,557.6 215.1,557.8 215.4,557.9 215.7,557.6 216,557.4 216.3,557.5 216.7,557.7 217,557.8 217.3,557.7 217.6,557.7 217.9,557.8 218.2,558 218.5,558.1 218.8,558 219.1,557.9 219.4,557.8 219.7,557.9 220,558.1 220.3,558.1 220.6,558 220.9,557.9 221.3,557.9 221.6,558.2 221.9,558.3 222.2,558.1 222.5,558 222.8,558 223.1,557.9 223.4,558 223.7,558 224,558.1 224.3,558.2 224.6,558.3 224.9,558.2 225.2,558 225.5,558.1 225.8,558.4 226.2,558.4 226.5,558.1 226.8,558 227.1,558.2 227.4,558.3 227.7,558.2 228,557.9 228.3,557.9 228.6,558 228.9,558 229.2,558 229.5,558.1 229.8,558.2 230.1,558.2 230.4,558.1 230.8,558.1 231.1,558.3 231.4,558.4 231.7,558.2 232,558.1 232.3,558.3 232.6,558.4 232.9,558.5 233.2,558.3 233.5,558.1 233.8,558.1 234.1,558.2 234.4,558.3 234.7,558.4 235,558.2 235.4,558.1 235.7,558.3 236,558.4 236.3,558.4 236.6,558.4 236.9,558.5 237.2,558.6 237.5,558.7 237.8,558.5 238.1,558.3 238.4,558.3 238.7,558.5 239,558.7 239.3,558.9 239.6,559 239.9,558.9 240.3,558.8 240.6,558.7 240.9,558.5 241.2,558.4 241.5,558.5 241.8,558.5 242.1,558.5 242.4,558.5 242.7,558.6 243,558.7 243.3,558.7 243.6,558.7 243.9,558.8 244.2,558.7 244.5,558.7 244.9,558.7 245.2,558.7 245.5,558.6 245.8,558.7 246.1,558.9 246.4,558.7 246.7,558.7 247,558.8 247.3,558.9 247.6,558.8 247.9,558.7 248.2,558.7 248.5,558.8 248.8,558.7 249.1,558.7 249.4,558.8 249.8,559 250.1,559.1 250.4,559.1 250.7,558.9 251,558.7 251.3,558.7 251.6,558.8 251.9,559 252.2,559.1 252.5,558.9 252.8,558.8 253.1,558.8 253.4,558.8 253.7,558.8 254,558.9 254.4,558.8 254.7,558.8 255,558.9 255.3,558.8 255.6,558.7 255.9,558.8 256.2,558.9 256.5,558.8 256.8,558.9 257.1,559.2 257.4,559.3 257.7,559.1 258,558.8 258.3,558.8 258.6,559.1 259,559.1 259.3,559 259.6,559 259.9,559.2 260.2,559.3 260.5,559.2 260.8,559 261.1,559 261.4,559 261.7,559.1 262,559.3 262.3,559.2 262.6,559.2 262.9,559.1 263.2,559 263.5,559.2 263.9,559.2 264.2,559 264.5,559 264.8,559.3 265.1,559.5 265.4,559.2 265.7,558.9 266,559 266.3,559.2 266.6,559.3 266.9,559.2 267.2,559.1 267.5,559.2 267.8,559.3 268.1,559.2 268.5,559.3 268.8,559.3 269.1,559.2 269.4,559.2 269.7,559.2 270,559 270.3,559.1 270.6,559.2 270.9,559.1 271.2,559.1 271.5,559.1 271.8,559 272.1,559 272.4,559.1 272.7,559.3 273,559.3 273.4,559 273.7,558.8 274,559 274.3,559.1 274.6,559.3 274.9,559.4 275.2,559.3 275.5,559.2 275.8,559.4 276.1,559.5 276.4,559.5 276.7,559.3 277,559.2 277.3,559.4 277.6,559.3 278,559.2 278.3,559.3 278.6,559.5 278.9,559.7 279.2,559.6 279.5,559.4 279.8,559.3 280.1,559.2 280.4,559.2 280.7,559.4 281,559.4 281.3,559.3 281.6,559.3 281.9,559.4 282.2,559.5 282.6,559.4 282.9,559.5 283.2,559.6 283.5,559.4 283.8,559.1 284.1,558.9 284.4,559 284.7,559 285,558.6 285.3,558.6 285.6,558.6 285.9,558.6 286.2,558.4 286.5,558.1 286.8,558.1 287.1,558.1 287.5,558 287.8,557.9 288.1,558.1 288.4,558.2 288.7,558.2 289,558.5 289.3,558.7 289.6,558.6 289.9,558.7 290.2,559 290.5,559.3 290.8,559.4 291.1,559.4 291.4,559.4 291.7,559.5 292.1,559.6 292.4,559.6 292.7,559.5 293,559.5 293.3,559.5 293.6,559.5 293.9,559.4 294.2,559.5 294.5,559.6 294.8,559.5 295.1,559.6 295.4,559.8 295.7,559.8 296,559.7 296.3,559.7 296.7,559.7 297,559.6 297.3,559.5 297.6,559.5 297.9,559.6 298.2,559.7 298.5,559.7 298.8,559.7 299.1,559.6 299.4,559.6 299.7,559.6 300,559.6 300.3,559.6 300.6,559.8 300.9,559.8 301.2,559.7 301.6,559.6 301.9,559.7 302.2,559.8 302.5,559.8 302.8,559.8 303.1,559.7 303.4,559.7 303.7,559.8 304,559.8 304.3,559.7 304.6,559.7 304.9,559.8 305.2,559.7 305.5,559.6 305.8,559.6 306.2,559.7 306.5,559.9 306.8,559.9 307.1,559.9 307.4,560 307.7,560 308,559.8 308.3,559.7 308.6,559.8 308.9,560 309.2,560.1 309.5,560 309.8,559.8 310.1,559.8 310.4,559.9 310.7,559.9 311.1,559.8 311.4,559.8 311.7,559.9 312,559.8 312.3,559.6 312.6,559.7 312.9,559.8 313.2,559.8 313.5,559.9 313.8,559.8 314.1,559.5 314.4,559.6 314.7,559.8 315,559.7 315.3,559.5 315.7,559.6 316,559.6 316.3,559.5 316.6,559.5 316.9,559.5 317.2,559.6 317.5,559.7 317.8,559.5 318.1,559.4 318.4,559.2 318.7,559.1 319,559.2 319.3,559.4 319.6,559.4 319.9,559.3 320.3,559.4 320.6,559.7 320.9,559.9 321.2,559.9 321.5,559.7 321.8,559.7 322.1,559.9 322.4,559.9 322.7,560 323,560 323.3,560 323.6,559.9 323.9,559.8 324.2,559.9 324.5,560.1 324.8,560.1 325.2,559.9 325.5,559.9 325.8,560 326.1,559.9 326.4,559.9 326.7,560.2 327,560.3 327.3,560.3 327.6,560.2 327.9,560.2 328.2,560.3 328.5,560.2 328.8,560.1 329.1,560.1 329.4,560.1 329.8,560.1 330.1,560.3 330.4,560.2 330.7,560 331,560.1 331.3,560.3 331.6,560.3 331.9,560.2 332.2,560.1 332.5,560.1 332.8,560.1 333.1,560.3 333.4,560.4 333.7,560.2 334,560 334.3,560.1 334.7,560.2 335,560.2 335.3,560.2 335.6,560.3 335.9,560.4 336.2,560.4 336.5,560.3 336.8,560.3 337.1,560.1 337.4,560 337.7,560.1 338,560.3 338.3,560.4 338.6,560.5 338.9,560.5 339.3,560.4 339.6,560.3 339.9,560.3 340.2,560.3 340.5,560.3 340.8,560.4 341.1,560.4 341.4,560.2 341.7,560.2 342,560.5 342.3,560.6 342.6,560.5 342.9,560.4 343.2,560.2 343.5,560.2 343.9,560.2 344.2,560.2 344.5,560.3 344.8,560.3 345.1,560.4 345.4,560.5 345.7,560.6 346,560.5 346.3,560.3 346.6,560.5 346.9,560.5 347.2,560.4 347.5,560.4 347.8,560.3 348.1,560.1 348.4,560 348.8,560 349.1,559.9 349.4,559.6 349.7,559.2 350,558.8 350.3,558.3 350.6,557.8 350.9,557.2 351.2,556.5 351.5,555.6 351.8,554.5 352.1,553.4 352.4,552.2 352.7,551 353,549.6 353.4,548.3 353.7,546.8 354,545.5 354.3,544.4 354.6,543.2 354.9,542.2 355.2,541.6 355.5,541.2 355.8,541.2 356.1,541.4 356.4,541.8 356.7,542.3 357,543 357.3,544.1 357.6,545.3 358,546.8 358.3,548.4 358.6,549.8 358.9,551 359.2,552.2 359.5,553.4 359.8,554.7 360.1,555.8 360.4,556.7 360.7,557.5 361,558.3 361.3,558.8 361.6,559.2 361.9,559.6 362.2,559.9 362.5,560.1 362.9,560.2 363.2,560.4 363.5,560.7 363.8,560.8 364.1,560.8 364.4,561 364.7,561 365,561 365.3,561 365.6,561.2 365.9,561.1 366.2,561.1 366.5,561.1 366.8,561.3 367.1,561.2 367.5,561.3 367.8,561.5 368.1,561.5 368.4,561.5 368.7,561.5 368.7,563.3" fill="#fe0000" stroke="#000" stroke-width="1.15" stroke-linejoin="round"/>
<polyline points="67.6,533.4 68.6,533 70.6,535 73,539" fill="none" stroke="#000" stroke-width="1.1"/>
<g font-size="9.5" font-weight="bold" text-anchor="end">
<text x="43" y="564.4" transform="rotate(0.03 43 564.4)">0</text>
<text x="43" y="498.4" transform="rotate(0.03 43 498.4)">2,000</text>
<text x="43" y="430.6" transform="rotate(0.03 43 430.6)">4,000</text>
<text x="43" y="362.8" transform="rotate(0.03 43 362.8)">6,000</text>
</g>
<g font-size="9.5" font-weight="bold" text-anchor="middle">
<text x="58.5" y="574.9" transform="rotate(0.03 58.5 574.9)">0</text>
<text x="119.8" y="574.9" transform="rotate(0.03 119.8 574.9)">2</text>
<text x="181.1" y="574.9" transform="rotate(0.03 181.1 574.9)">4</text>
<text x="242.4" y="574.9" transform="rotate(0.03 242.4 574.9)">6</text>
<text x="303.7" y="574.9" transform="rotate(0.03 303.7 574.9)">8</text>
<text x="365" y="574.9" transform="rotate(0.03 365 574.9)">10</text>
</g>
<text x="214.8" y="595.2" transform="rotate(0.03 214.8 595.2)" font-size="12.05" font-weight="bold" text-anchor="middle">Energy (keV)</text>
<text transform="translate(12.5 449) rotate(-90)" font-size="12.0" font-weight="bold" text-anchor="middle">Counts (cps)</text>
<text x="67.6" y="373" transform="rotate(0.03 67.6 373)" font-size="12" font-weight="bold" text-anchor="middle">C</text>
<text x="75" y="486.5" transform="rotate(0.03 75 486.5)" font-size="12" font-weight="bold" text-anchor="middle">O</text>
<rect x="192.3" y="341.9" width="184" height="90.2" fill="#fff" stroke="none"/>
<path d="M192.3 359.9H376.3M192.3 378H376.3M192.3 396H376.3M192.3 414H376.3M244.5 341.9V432.1M312.5 341.9V432.1" stroke="#dedede" stroke-width="0.9" fill="none"/>
<rect x="192.3" y="341.9" width="184" height="90.2" fill="none" stroke="#a8a8a8" stroke-width="1"/>
<text x="295" y="337.6" transform="rotate(0.03 295 337.6)" font-size="11.75" text-anchor="middle" stroke="none" fill="#1a1a1a">PP-g-GMA-NMDG</text>
<g font-size="11.75" font-weight="bold" text-anchor="middle">
<text x="219.4" y="353.3" transform="rotate(0.03 219.4 353.3)">Element</text>
<text x="279.4" y="353.3" transform="rotate(0.03 279.4 353.3)">Weights/%</text>
<text x="345.3" y="353.3" transform="rotate(0.03 345.3 353.3)">Atomie/%</text>
<text x="219.4" y="371.3" transform="rotate(0.03 219.4 371.3)">C</text>
<text x="279.4" y="371.3" transform="rotate(0.03 279.4 371.3)">56.92</text>
<text x="345.3" y="371.3" transform="rotate(0.03 345.3 371.3)">63.56</text>
<text x="219.4" y="389.4" transform="rotate(0.03 219.4 389.4)">N</text>
<text x="279.4" y="389.4" transform="rotate(0.03 279.4 389.4)">2.79</text>
<text x="345.3" y="389.4" transform="rotate(0.03 345.3 389.4)">2.67</text>
<text x="219.4" y="407.4" transform="rotate(0.03 219.4 407.4)">O</text>
<text x="279.4" y="407.4" transform="rotate(0.03 279.4 407.4)">40.29</text>
<text x="345.3" y="407.4" transform="rotate(0.03 345.3 407.4)">33.77</text>
<text x="219.4" y="425.4" transform="rotate(0.03 219.4 425.4)">Total</text>
<text x="279.4" y="425.4" transform="rotate(0.03 279.4 425.4)">100</text>
<text x="345.3" y="425.4" transform="rotate(0.03 345.3 425.4)">100</text>
</g>
</g>
<g>
<rect x="462.1" y="318.6" width="331.9" height="243.8" fill="#fff" stroke="#0c0c0c" stroke-width="1.2"/>
<path d="M462.1 456.1h4.8M462.1 349.9h4.8M471.1 562.4v-5.2M532.6 562.4v-5.2M594.1 562.4v-5.2M655.6 562.4v-5.2M717.1 562.4v-5.2M778.6 562.4v-5.2" stroke="#111" stroke-width="1" fill="none"/>
<polyline points="469.3,563.1 469.3,561 469.6,560.5 469.9,560 470.2,559 470.5,525.3 470.8,483 471.1,439.5 471.4,393.8 471.7,345.1 471.8,335.1 472,374.8 472.3,420.7 472.6,464.2 472.9,506.5 473.3,548.2 473.6,557.1 473.9,557.1 474.2,557.1 474.5,557.7 474.8,557.9 475.1,557.8 475.4,557.8 475.7,557.5 476,557.3 476.3,557.4 476.6,557.5 476.9,557.5 477.2,557.6 477.6,557.5 477.9,557.2 478.2,556.7 478.5,555.8 478.8,529.8 479.1,486.2 479.4,439.6 479.6,409.1 479.7,429.2 480,476.3 480.3,520.2 480.6,553.8 480.9,554.6 481.2,555.3 481.6,555 481.9,554.5 482.2,554.3 482.5,554.6 482.8,554.4 483.1,554.5 483.4,555 483.7,554.9 484,554.1 484.3,553.8 484.6,553.8 484.9,554.1 485.2,554.4 485.6,553.1 485.9,546.4 486.2,540 486.5,533 486.8,525.8 487.1,518.2 487.4,509.8 487.7,518.5 488,526.3 488.3,533.7 488.6,541.6 488.9,548.9 489.2,555.7 489.6,557.7 489.9,558 490.2,557.8 490.5,557.8 490.8,557.8 491.1,557.7 491.4,557.5 491.7,557.5 492,557.7 492.3,558 492.6,558.3 492.9,558.2 493.2,557.8 493.5,557.7 493.9,557 494.2,556.6 494.5,557.2 494.8,557.4 495.1,557 495.4,556.7 495.7,556.8 496,556.8 496.3,556.7 496.6,556.4 496.9,556.1 497.2,556.4 497.5,556.3 497.9,555.9 498.2,556 498.5,556.2 498.8,555.8 499.1,555.5 499.4,555.5 499.7,556 500,556.5 500.3,556.1 500.6,555.5 500.9,555.5 501.2,555.3 501.5,554.6 501.9,554.5 502.2,554.8 502.5,555.2 502.8,556.2 503.1,556.3 503.4,555.5 503.7,555.2 504,555.1 504.3,555.1 504.6,555.2 504.9,555.1 505.2,555.4 505.5,555.7 505.8,555.4 506.2,554.8 506.5,554.8 506.8,555.3 507.1,555.5 507.4,555.3 507.7,555 508,554.5 508.3,554.8 508.6,555.2 508.9,555 509.2,554.9 509.5,555.3 509.8,555 510.2,554.4 510.5,554.4 510.8,554.9 511.1,555.2 511.4,555.4 511.7,555.3 512,554.8 512.3,554.6 512.6,555 512.9,555.4 513.2,555.2 513.5,554.7 513.8,554.7 514.1,554.8 514.5,554.5 514.8,554.4 515.1,554.9 515.4,555.2 515.7,555.3 516,555.1 516.3,554.5 516.6,554.3 516.9,554.6 517.2,555.2 517.5,555.2 517.8,554.8 518.1,554.6 518.5,554.5 518.8,554.2 519.1,553.3 519.4,552.1 519.7,551.2 520,550.5 520.3,549.6 520.6,548.4 520.9,547.1 521.2,546 521.5,545.5 521.8,545.6 521.8,545.4 522.1,545.3 522.5,546.1 522.8,547.6 523.1,549.2 523.4,550.7 523.7,551.7 524,552.1 524.3,552.8 524.6,553.5 524.9,554.2 525.2,554.9 525.5,554.9 525.8,554.1 526.1,553.8 526.5,554.4 526.8,554.6 527.1,554.6 527.4,555.1 527.7,555.1 528,554.6 528.3,554.3 528.6,553.9 528.9,553.6 529.2,553.8 529.5,553.6 529.8,553 530.1,553.4 530.4,554.3 530.8,554.2 531.1,553.9 531.4,554.4 531.7,554.7 532,554.6 532.3,554.3 532.6,553.3 532.9,551.4 533.2,548.5 533.5,545 533.8,540.5 534.1,533.3 534.4,522.6 534.8,509 535.1,493.6 535.4,477.4 535.7,461.5 536,447.2 536.3,436.6 536.5,430.8 536.6,429.3 536.9,427.1 537.2,429.8 537.5,436.3 537.8,444.1 538.1,453.2 538.4,463.5 538.8,474.2 539.1,485.2 539.4,495.8 539.7,506.5 540,517.2 540.3,526.5 540.6,534.4 540.9,540.7 541.2,545.4 541.5,548.9 541.8,551.1 542.1,552.7 542.4,554 542.7,554.9 543.1,555.2 543.4,555.1 543.7,554.5 544,553.7 544.3,553.2 544.6,552.4 544.9,551.7 545.2,551.5 545.5,551.1 545.8,550.7 546.1,551.2 546.4,552.5 546.7,553.4 547.1,554 547.4,554.4 547.7,554.4 548,554.7 548.3,554.8 548.6,555.1 548.9,555.8 549.2,556.2 549.5,555.9 549.8,555.8 550.1,555.9 550.4,555.8 550.7,555.5 551.1,555.6 551.4,556 551.7,556.7 552,556.7 552.3,556.1 552.6,556.1 552.9,556.6 553.2,556.7 553.5,556.9 553.8,556.9 554.1,556.7 554.4,556.7 554.7,556.5 555,556.3 555.4,556.3 555.7,556.3 556,556.3 556.3,556.4 556.6,556.2 556.9,556 557.2,556.1 557.5,556.2 557.8,556.5 558.1,556.5 558.4,556.6 558.7,557.3 559,557.3 559.4,556.8 559.7,556.9 560,557.2 560.3,556.8 560.6,556.7 560.9,556.7 561.2,557 561.5,557.1 561.8,556.9 562.1,556.9 562.4,556.8 562.7,556.4 563,556.4 563.4,556.8 563.7,557 564,557.3 564.3,557.6 564.6,557.6 564.9,557.5 565.2,557.4 565.5,557.1 565.8,556.8 566.1,556.3 566.4,556.6 566.7,557.3 567,557.4 567.3,557.2 567.7,557 568,556.8 568.3,556.7 568.6,556.7 568.9,556.9 569.2,557.5 569.5,558.1 569.8,558 570.1,557.7 570.4,557.6 570.7,557.3 571,556.9 571.3,556.8 571.7,556.9 572,556.9 572.3,557 572.6,557.3 572.9,557.5 573.2,557.5 573.5,557.1 573.8,557 574.1,557.7 574.4,557.8 574.7,557.4 575,557.6 575.3,557.6 575.6,557.2 576,557 576.3,557 576.6,557.3 576.9,557.8 577.2,557.6 577.5,557.3 577.8,557.7 578.1,557.7 578.4,557.2 578.7,557 579,557.3 579.3,557.5 579.6,557.2 580,557.3 580.3,557.6 580.6,557.6 580.9,557.8 581.2,557.9 581.5,557.6 581.8,557.5 582.1,558.2 582.4,558.4 582.7,557.8 583,557.4 583.3,557.1 583.6,557.2 584,557.6 584.3,557.6 584.6,557.3 584.9,557.1 585.2,557.3 585.5,558 585.8,558.3 586.1,558.2 586.4,558.1 586.7,557.7 587,557.7 587.3,558 587.6,557.8 588,557.4 588.3,557.5 588.6,557.8 588.9,557.7 589.2,557.7 589.5,557.5 589.8,557.4 590.1,557.6 590.4,557.7 590.7,557.5 591,557.4 591.3,557.5 591.6,557.9 591.9,558 592.3,558 592.6,558.1 592.9,557.9 593.2,557.7 593.5,557.8 593.8,558.1 594.1,558.4 594.4,558.2 594.7,557.8 595,557.9 595.3,558.3 595.6,558.5 595.9,558.7 596.3,558.8 596.6,558.1 596.9,557.9 597.2,558.2 597.5,558.5 597.8,558.4 598.1,558 598.4,557.9 598.7,557.8 599,557.5 599.3,558 599.6,558.6 599.9,558.7 600.2,558.6 600.6,558.8 600.9,559 601.2,559 601.5,558.7 601.8,558.3 602.1,558.1 602.4,557.9 602.7,558 603,558.6 603.3,558.7 603.6,558.3 603.9,558.3 604.2,558.3 604.6,557.9 604.9,557.6 605.2,557.7 605.5,558.1 605.8,558.2 606.1,558.1 606.4,558 606.7,558 607,558.2 607.3,558.5 607.6,558.7 607.9,558.1 608.2,557.7 608.6,557.9 608.9,558.2 609.2,558.6 609.5,558.8 609.8,558.7 610.1,558.3 610.4,558.3 610.7,558.7 611,558.8 611.3,558.2 611.6,557.7 611.9,558 612.2,558.2 612.5,558.2 612.9,558.2 613.2,558.5 613.5,558.8 613.8,558.5 614.1,558 614.4,558.1 614.7,558.6 615,558.8 615.3,558.6 615.6,558.5 615.9,558.4 616.2,558.3 616.5,558.5 616.9,558.4 617.2,558.2 617.5,558.1 617.8,558.1 618.1,558.4 618.4,558.5 618.7,558.4 619,558.2 619.3,558.1 619.6,558.2 619.9,558.4 620.2,558.3 620.5,558.4 620.9,558.7 621.2,558.7 621.5,558.5 621.8,558.3 622.1,558.4 622.4,558.5 622.7,558.7 623,558.6 623.3,558.3 623.6,558.3 623.9,558.6 624.2,558.9 624.5,558.8 624.9,558.5 625.2,558.8 625.5,558.9 625.8,558.9 626.1,559 626.4,558.6 626.7,558.3 627,558.4 627.3,558.7 627.6,559 627.9,559 628.2,558.8 628.5,558.6 628.8,558.6 629.2,558.5 629.5,558.3 629.8,558.5 630.1,559.1 630.4,559 630.7,558.5 631,558.5 631.3,558.8 631.6,558.9 631.9,558.8 632.2,558.8 632.5,558.9 632.8,559.1 633.2,559.1 633.5,558.8 633.8,558.6 634.1,558.7 634.4,558.4 634.7,558.1 635,558.2 635.3,558.2 635.6,558.3 635.9,558.4 636.2,558.8 636.5,559.1 636.8,558.6 637.2,558.4 637.5,558.7 637.8,558.9 638.1,559.1 638.4,559.1 638.7,558.9 639,558.8 639.3,558.6 639.6,558.6 639.9,559.1 640.2,559.2 640.5,558.7 640.8,558.4 641.1,558.7 641.5,559 641.8,558.6 642.1,558.4 642.4,558.8 642.7,559.1 643,558.9 643.3,558.5 643.6,558.5 643.9,559.2 644.2,559.5 644.5,559 644.8,559.1 645.1,559.5 645.5,559.3 645.8,558.9 646.1,558.9 646.4,558.9 646.7,558.8 647,558.8 647.3,558.8 647.6,558.7 647.9,558.7 648.2,559 648.5,558.9 648.8,558.8 649.1,559.1 649.5,559.3 649.8,559.4 650.1,559.1 650.4,558.6 650.7,558.5 651,558.5 651.3,558.7 651.6,559 651.9,559.1 652.2,559.1 652.5,559 652.8,559 653.1,559.2 653.4,559.1 653.8,559 654.1,559.2 654.4,559.2 654.7,559 655,559 655.3,559.1 655.6,559.2 655.9,559.2 656.2,559.1 656.5,559.3 656.8,559.6 657.1,559.4 657.4,559 657.8,559.2 658.1,559.3 658.4,559.1 658.7,558.9 659,558.8 659.3,558.8 659.6,559 659.9,559.1 660.2,559.1 660.5,558.9 660.8,558.8 661.1,558.9 661.4,559.1 661.8,559.3 662.1,559.3 662.4,559.2 662.7,558.8 663,558.9 663.3,559.8 663.6,559.9 663.9,559.4 664.2,559.3 664.5,559.4 664.8,559.5 665.1,559.5 665.4,559.4 665.7,559.3 666.1,559.1 666.4,559.1 666.7,559.2 667,559.1 667.3,559.1 667.6,559.4 667.9,559.8 668.2,559.8 668.5,559.4 668.8,559.5 669.1,559.6 669.4,559.5 669.7,559.5 670.1,559.5 670.4,559.8 670.7,559.7 671,559.4 671.3,559.3 671.6,559.2 671.9,558.9 672.2,558.9 672.5,559.3 672.8,559.8 673.1,559.8 673.4,559.4 673.7,559.1 674,559.2 674.4,559.4 674.7,559.4 675,559.3 675.3,559.3 675.6,559.2 675.9,559.1 676.2,559.1 676.5,559.1 676.8,559.2 677.1,559.3 677.4,559.3 677.7,559.3 678,559.3 678.4,559.5 678.7,559.6 679,559.5 679.3,559.6 679.6,559.7 679.9,559.7 680.2,559.8 680.5,559.8 680.8,559.4 681.1,559.3 681.4,559.3 681.7,559.4 682,559.3 682.4,559 682.7,558.8 683,559.3 683.3,559.9 683.6,559.7 683.9,559 684.2,558.8 684.5,559.3 684.8,559.6 685.1,559.3 685.4,559.5 685.7,559.6 686,559.6 686.4,559.7 686.7,559.5 687,559.4 687.3,559.7 687.6,559.5 687.9,559.2 688.2,559.5 688.5,559.8 688.8,559.7 689.1,559.6 689.4,559.8 689.7,560 690,560 690.3,559.8 690.7,559.4 691,559.4 691.3,559.6 691.6,559.6 691.9,559.8 692.2,559.7 692.5,559.3 692.8,559.3 693.1,559.5 693.4,559.3 693.7,559.1 694,559.2 694.3,559.5 694.7,559.8 695,559.9 695.3,559.8 695.6,559.5 695.9,559.3 696.2,559.3 696.5,559.4 696.8,559.5 697.1,559.7 697.4,559.5 697.7,559.2 698,559 698.3,559.2 698.7,559.2 699,558.7 699.3,558.3 699.6,558.2 699.9,558.2 700.2,558.3 700.5,558 700.8,557.8 701.1,558.2 701.4,558.5 701.7,558.4 702,558.3 702.3,558.6 702.6,559.1 703,559.4 703.3,559.7 703.6,560.2 703.9,560.2 704.2,560 704.5,559.8 704.8,559.7 705.1,559.7 705.4,559.4 705.7,559.3 706,559.8 706.3,559.9 706.6,559.3 707,559.1 707.3,559.8 707.6,560.2 707.9,560 708.2,559.7 708.5,559.7 708.8,559.9 709.1,559.9 709.4,559.9 709.7,560.2 710,560.1 710.3,559.7 710.6,559.6 711,559.6 711.3,559.3 711.6,559.3 711.9,559.4 712.2,559.5 712.5,559.5 712.8,559.4 713.1,559.4 713.4,559.8 713.7,560.2 714,560.1 714.3,560 714.6,560 714.9,559.9 715.3,560 715.6,559.8 715.9,559.9 716.2,560.2 716.5,559.8 716.8,559.2 717.1,559.2 717.4,559.5 717.7,559.4 718,559.4 718.3,559.8 718.6,559.8 718.9,559.6 719.3,559.6 719.6,559.7 719.9,559.4 720.2,559.4 720.5,559.3 720.8,559.2 721.1,559.2 721.4,559.2 721.7,559.5 722,559.8 722.3,559.7 722.6,559.6 722.9,559.6 723.2,559.9 723.6,560.2 723.9,560.3 724.2,560 724.5,559.6 724.8,559.7 725.1,560.2 725.4,560.2 725.7,560 726,559.9 726.3,559.9 726.6,560.1 726.9,560.1 727.2,559.6 727.6,559.5 727.9,559.7 728.2,559.8 728.5,559.9 728.8,559.9 729.1,559.6 729.4,559.6 729.7,559.7 730,559.3 730.3,558.8 730.6,558.8 730.9,558.9 731.2,558.8 731.6,558.6 731.9,558.7 732.2,559 732.5,559 732.8,558.9 733.1,558.9 733.4,559.1 733.7,559.3 734,559 734.3,559.1 734.6,559.4 734.9,559.3 735.2,559.2 735.5,559.4 735.9,559.5 736.2,559.7 736.5,560 736.8,560.3 737.1,560.2 737.4,560 737.7,559.9 738,559.9 738.3,560.2 738.6,560.5 738.9,560.3 739.2,560.3 739.5,560.5 739.9,560.5 740.2,560.4 740.5,560.3 740.8,560.1 741.1,559.9 741.4,560.1 741.7,560.4 742,560.6 742.3,560.8 742.6,560.7 742.9,560.5 743.2,560.6 743.5,560.7 743.9,560.3 744.2,560 744.5,560.2 744.8,560.3 745.1,560.3 745.4,560.4 745.7,560.3 746,560.1 746.3,560.3 746.6,560.7 746.9,560.5 747.2,560 747.5,560.1 747.9,560.5 748.2,560.4 748.5,560.1 748.8,560.4 749.1,560.5 749.4,560.1 749.7,560 750,560.2 750.3,560.2 750.6,560.3 750.9,560.3 751.2,560.4 751.5,560.5 751.8,560.3 752.2,560.1 752.5,560.1 752.8,560 753.1,559.8 753.4,559.9 753.7,560.1 754,560.3 754.3,560.3 754.6,560.5 754.9,560.6 755.2,560.4 755.5,560.2 755.8,560.4 756.2,560.6 756.5,560.4 756.8,560.2 757.1,560.2 757.4,560.2 757.7,560.4 758,560.5 758.3,560.5 758.6,560.6 758.9,560.6 759.2,560.5 759.5,560.3 759.8,560.3 760.2,560.4 760.5,560.4 760.8,560.3 761.1,560.4 761.4,560.4 761.7,560.2 762,560.1 762.3,560 762.6,559.7 762.9,559.5 763.2,559.3 763.5,559.3 763.8,559 764.1,558.4 764.5,557.7 764.8,557.3 765.1,556.8 765.4,556 765.7,555 766,554 766.3,552.8 766.6,551.4 766.9,550.3 767.2,549.3 767.5,548.2 767.8,547 768.1,545.9 768.5,545.4 768.8,545 769.1,544.6 769.4,544.2 769.5,544 769.7,544.2 770,544.7 770.3,545.3 770.6,545.8 770.9,546.4 771.2,547.5 771.5,548.5 771.8,549.5 772.1,550.6 772.5,552 772.8,553.4 773.1,554.4 773.4,555.2 773.7,556.2 774,557 774.3,557.7 774.6,558.3 774.9,558.8 775.2,559.2 775.5,559.5 775.8,559.9 776.1,560 776.4,560.1 776.8,560.3 777.1,560.2 777.4,560.5 777.7,560.9 778,560.5 778.3,560.4 778.6,560.7 778.9,560.9 779.2,561 779.5,561.2 779.8,561 780.1,560.9 780.4,561 780.8,560.8 781.1,560.9 781.4,561.4 781.7,561.7 782,561.4 782.3,561.2 782.6,561.2 782.6,563.1" fill="#fe0000" stroke="#000" stroke-width="1.15" stroke-linejoin="round"/>
<polyline points="480.3,541.2 481.4,540.8 483.6,543.2 486,547.2" fill="none" stroke="#000" stroke-width="1.1"/>
<g font-size="9.5" font-weight="bold" text-anchor="end">
<text x="456.8" y="564.6" transform="rotate(0.03 456.8 564.6)">0</text>
<text x="456.2" y="458.9" transform="rotate(0.03 456.2 458.9)">1,000</text>
<text x="456.2" y="352.7" transform="rotate(0.03 456.2 352.7)">2,000</text>
</g>
<g font-size="9.5" font-weight="bold" text-anchor="middle">
<text x="471.1" y="574.9" transform="rotate(0.03 471.1 574.9)">0</text>
<text x="532.6" y="574.9" transform="rotate(0.03 532.6 574.9)">2</text>
<text x="594.1" y="574.9" transform="rotate(0.03 594.1 574.9)">4</text>
<text x="655.6" y="574.9" transform="rotate(0.03 655.6 574.9)">6</text>
<text x="717.1" y="574.9" transform="rotate(0.03 717.1 574.9)">8</text>
<text x="778.6" y="574.9" transform="rotate(0.03 778.6 574.9)">10</text>
</g>
<text x="628.1" y="594.8" transform="rotate(0.03 628.1 594.8)" font-size="12.05" font-weight="bold" text-anchor="middle">Energy (keV)</text>
<text transform="translate(426.5 448) rotate(-90)" font-size="12.15" font-weight="bold" text-anchor="middle">Counts (cps)</text>
<text x="480.3" y="403.9" transform="rotate(0.03 480.3 403.9)" font-size="12" font-weight="bold" text-anchor="middle">C</text>
<text x="487.3" y="505.6" transform="rotate(0.03 487.3 505.6)" font-size="12" font-weight="bold" text-anchor="middle">O</text>
<rect x="601.3" y="342.8" width="184.8" height="92.9" fill="#fff" stroke="none"/>
<path d="M601.3 361.4H786.1M601.3 380H786.1M601.3 398.5H786.1M601.3 417.1H786.1M652.5 342.8V435.7M722.7 342.8V435.7" stroke="#dedede" stroke-width="0.9" fill="none"/>
<rect x="601.3" y="342.8" width="184.8" height="92.9" fill="none" stroke="#a8a8a8" stroke-width="1"/>
<text x="704.7" y="338.4" transform="rotate(0.03 704.7 338.4)" font-size="11.9" text-anchor="middle" stroke="none" fill="#1a1a1a">I-(PP-g-GMA-NMDG)</text>
<g font-size="12.15" font-weight="bold" text-anchor="middle">
<text x="627.9" y="354.5" transform="rotate(0.03 627.9 354.5)">Element</text>
<text x="688.5" y="354.5" transform="rotate(0.03 688.5 354.5)">Weights/%</text>
<text x="755.3" y="354.5" transform="rotate(0.03 755.3 354.5)">Atomie/%</text>
<text x="627.9" y="372.9" transform="rotate(0.03 627.9 372.9)">C</text>
<text x="688.5" y="372.9" transform="rotate(0.03 688.5 372.9)">57.17</text>
<text x="755.3" y="372.9" transform="rotate(0.03 755.3 372.9)">63.65</text>
<text x="627.9" y="391.4" transform="rotate(0.03 627.9 391.4)">N</text>
<text x="688.5" y="391.4" transform="rotate(0.03 688.5 391.4)">4.61</text>
<text x="755.3" y="391.4" transform="rotate(0.03 755.3 391.4)">4.4</text>
<text x="627.9" y="409.9" transform="rotate(0.03 627.9 409.9)">O</text>
<text x="688.5" y="409.9" transform="rotate(0.03 688.5 409.9)">38.22</text>
<text x="755.3" y="409.9" transform="rotate(0.03 755.3 409.9)">31.95</text>
<text x="627.9" y="428.3" transform="rotate(0.03 627.9 428.3)">Total</text>
<text x="688.5" y="428.3" transform="rotate(0.03 688.5 428.3)">100</text>
<text x="755.3" y="428.3" transform="rotate(0.03 755.3 428.3)">100</text>
</g>
</g>
</svg>
</body>
</html>
